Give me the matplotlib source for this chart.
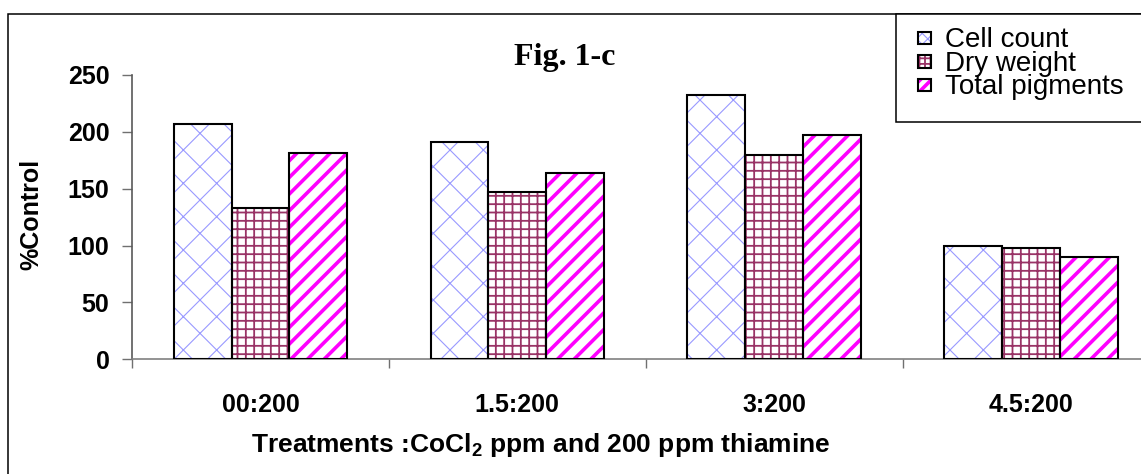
import matplotlib
matplotlib.use('Agg')
import matplotlib.pyplot as plt
from matplotlib.patches import Rectangle
import numpy as np

# data
treatments = ['00:200', '1.5:200', '3:200', '4.5:200']
series = ['Cell count', 'Dry weight', 'Total pigments']
cell_count = [207, 191, 232, 100]
dry_weight = [133, 147, 180, 98]
total_pigments = [181, 164, 197, 90]
yticks = [0, 50, 100, 150, 200, 250]

values = [cell_count, dry_weight, total_pigments]
hatches = ['x', '++', '//']
legend_hatches = ['xxx', '+++', '///']
hatch_colors = ['#9999FF', '#993366', '#FF00FF']
hatch_widths = [0.8, 1.3, 2.6]

plt.rcParams['font.family'] = ['Liberation Sans', 'DejaVu Sans']
plt.rcParams['mathtext.fontset'] = 'custom'
plt.rcParams['mathtext.rm'] = 'Liberation Sans:bold'
plt.rcParams['mathtext.bf'] = 'Liberation Sans:bold'

W, H = 1141, 474
fig = plt.figure(figsize=(W / 100, H / 100), dpi=100)
ax = fig.add_axes([132 / W, 1 - 359.3 / H, 1027.5 / W, 284.3 / H])

x = np.arange(len(treatments))
bw = 0.225


def set_hw(patches, k):
    for p in patches:
        if hasattr(p, 'set_hatch_linewidth'):
            p.set_hatch_linewidth(hatch_widths[k])


for k, vals in enumerate(values):
    # hatch layer first, black outline on top
    with plt.rc_context({'hatch.linewidth': hatch_widths[k]}):
        bars = ax.bar(x + (k - 1) * bw, vals, bw, facecolor='white', edgecolor=hatch_colors[k],
                      hatch=hatches[k], linewidth=0, zorder=2)
    set_hw(bars, k)
    ax.bar(x + (k - 1) * bw, vals, bw, fill=False, edgecolor='black', linewidth=1.5, zorder=3)

ax.set_xlim(-0.5, len(treatments) - 0.5)
ax.set_ylim(0, 250)
ax.set_yticks(yticks)
ax.set_yticklabels([str(v) for v in yticks], fontsize=18, fontweight='bold')
ax.set_xticks(np.arange(len(treatments) + 1) - 0.5)
ax.set_xticklabels([])
ax.set_xticks(x, minor=True)
ax.set_xticklabels(treatments, minor=True, fontsize=18, fontweight='bold')
ax.tick_params(axis='x', which='major', direction='out', length=6.5, width=1, color='#707070')
ax.tick_params(axis='x', which='minor', length=0, pad=24)
ax.tick_params(axis='y', direction='out', length=7.2, width=1, color='#707070', pad=9)
for s in ['top', 'right']:
    ax.spines[s].set_visible(False)
ax.spines['bottom'].set_color('#808080')
ax.spines['left'].set_color('#595959')
ax.spines['bottom'].set_linewidth(1.2)
ax.spines['left'].set_linewidth(1.2)

fig.text(31 / W, 1 - 214 / H, '%Control', rotation=90, ha='center', va='center',
         fontsize=18, fontweight='bold')
fig.text(541 / W, 1 - 452 / H, r'Treatments :CoCl$_\mathbf{2}$ ppm and 200 ppm thiamine',
         ha='center', va='baseline', fontsize=19, fontweight='bold')
fig.text(565 / W, 1 - 65 / H, 'Fig. 1-c', ha='center', va='baseline',
         fontsize=23, fontweight='bold', family='Liberation Serif')

# outer border (cut at right and bottom)
fig.add_artist(Rectangle((8 / W, -0.2), 1.2, 1.2 - 14 / H, transform=fig.transFigure,
                         fill=False, edgecolor='black', linewidth=1.1))

# legend box
fig.add_artist(Rectangle((896 / W, 1 - 122 / H), 0.3, 108 / H, transform=fig.transFigure,
                         facecolor='white', edgecolor='black', linewidth=1.1, zorder=3))
for k, name in enumerate(series):
    yc = 38 + k * 23.6
    with plt.rc_context({'hatch.linewidth': hatch_widths[k]}):
        sw = Rectangle((918 / W, 1 - (yc + 6.2) / H), 12.5 / W, 12.5 / H,
                       transform=fig.transFigure, facecolor='white',
                       edgecolor=hatch_colors[k], hatch=legend_hatches[k],
                       linewidth=0, zorder=4)
    set_hw([sw], k)
    fig.add_artist(sw)
    fig.add_artist(Rectangle((918 / W, 1 - (yc + 6.2) / H), 12.5 / W, 12.5 / H,
                             transform=fig.transFigure, fill=False,
                             edgecolor='black', linewidth=1.5, zorder=5))
    fig.text(945 / W, 1 - (yc + 9) / H, name, ha='left', va='baseline', fontsize=20, zorder=5)

fig.savefig('out.png', dpi=100)
